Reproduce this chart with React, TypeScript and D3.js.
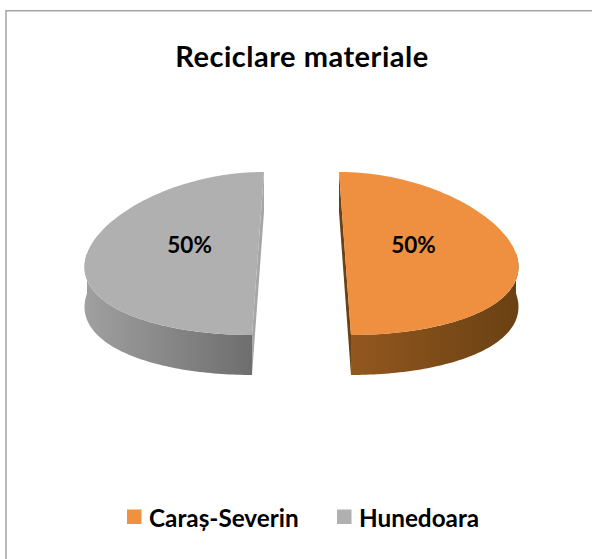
import React from "react";
import * as d3 from "d3";

const categories = ["Caraș-Severin", "Hunedoara"];
const values = [50, 50];
const topColors = ["#EE903F", "#B0B0B0"];
const sideLight = ["#93571F", "#A0A0A0"];
const sideDark = ["#6A4113", "#6E6E6E"];
const cutColors = ["#6B4114", "#A6A6A6"];
const legendColors = ["#EF913F", "#B0B0B0"];
const title = "Reciclare materiale";

const W = 592;
const H = 559;
const CX = 301.5;
const CY = 253.5;
const RX = 171;
const RY = 81.5;
const DEPTH = 40;
const EXPLODE = 43.5;
const PERSP = 0.138;
const START = 0;

// perspective projection: x spreads toward the front
function proj(x: number, yFlat: number, dy = 0): [number, number] {
  const f = Math.max(-1, Math.min(1, (yFlat - CY) / RY));
  return [CX + (x - CX) * (1 + PERSP * f), yFlat + dy];
}

function pt(cx: number, cy: number, a: number, dy = 0, r = 1): [number, number] {
  return proj(cx + RX * r * Math.sin(a), cy - RY * r * Math.cos(a), dy);
}

function arcPoints(cx: number, cy: number, a0: number, a1: number, dy = 0, n = 80) {
  const pts: [number, number][] = [];
  for (let i = 0; i <= n; i++) {
    const a = a0 + ((a1 - a0) * i) / n;
    pts.push(pt(cx, cy, a, dy));
  }
  return pts;
}

export default function App() {
  const pie = d3
    .pie<number>()
    .sort(null)
    .startAngle(START)
    .endAngle(START + 2 * Math.PI);
  const arcs = pie(values);
  const total = d3.sum(values);
  const fmt = d3.format(".0%");
  const line = d3.line();

  const slices = arcs.map((a, i) => {
    const mid = (a.startAngle + a.endAngle) / 2;
    const cx = CX + EXPLODE * Math.sin(mid);
    const cy = CY - ((EXPLODE * RY) / RX) * Math.cos(mid);
    const top = arcPoints(cx, cy, a.startAngle, a.endAngle);
    const topPath = line(top as [number, number][]) + "Z";
    const s0 = Math.max(a.startAngle, Math.PI / 2);
    const s1 = Math.min(a.endAngle, (3 * Math.PI) / 2);
    let sidePath: string | null = null;
    if (s1 > s0) {
      const upper = arcPoints(cx, cy, s0, s1);
      const lower = arcPoints(cx, cy, s0, s1, DEPTH).reverse();
      sidePath = line([...upper, ...lower] as [number, number][]) + "Z";
    }
    const p = pt(cx, cy, a.startAngle);
    const q = pt(cx, cy, a.endAngle);
    const pd = pt(cx, cy, a.startAngle, DEPTH);
    const qd = pt(cx, cy, a.endAngle, DEPTH);
    const cut = line([p, pd, qd, q] as [number, number][]) + "Z";
    const lab = pt(cx, cy, mid, 0, 0.4);
    return { i, topPath, sidePath, cut, lx: lab[0], val: a.data };
  });

  return (
    <svg
      width={W}
      height={H}
      style={{ position: "absolute", left: 0, top: 0, background: "#fff" }}
      fontFamily="Lato, 'Open Sans', sans-serif"
    >
      <defs>
        {slices.map((s) => (
          <linearGradient key={s.i} id={`side${s.i}`} x1="0" y1="0" x2="1" y2="0">
            <stop offset="0" stopColor={sideLight[s.i]} />
            <stop offset="1" stopColor={sideDark[s.i]} />
          </linearGradient>
        ))}
      </defs>
      <rect x={6} y={10.75} width={W + 20} height={H + 20} fill="#fff" stroke="#A3A3A3" strokeWidth={1.5} />
      <text x={302} y={67} textAnchor="middle" fontSize={29} letterSpacing={0.5} fontWeight="bold" fill="#000">
        {title}
      </text>
      {slices.map((s) => (
        <g key={s.i}>
          <path d={s.cut} fill={cutColors[s.i]} />
          {s.sidePath && <path d={s.sidePath} fill={`url(#side${s.i})`} />}
          <path d={s.topPath} fill={topColors[s.i]} />
        </g>
      ))}
      {slices.map((s) => (
        <text
          key={"l" + s.i}
          x={s.lx}
          y={253}
          textAnchor="middle"
          fontSize={22.5}
          fontWeight="bold"
          fill="#000"
        >
          {fmt(s.val / total)}
        </text>
      ))}
      <g>
        <rect x={127} y={509.5} width={14.5} height={14.5} fill={legendColors[0]} />
        <text x={149} y={527} fontSize={24.3} fontWeight="bold" fill="#000">
          {categories[0]}
        </text>
        <rect x={337} y={509.5} width={14.5} height={14.5} fill={legendColors[1]} />
        <text x={359} y={527} fontSize={24.3} fontWeight="bold" fill="#000">
          {categories[1]}
        </text>
      </g>
    </svg>
  );
}
